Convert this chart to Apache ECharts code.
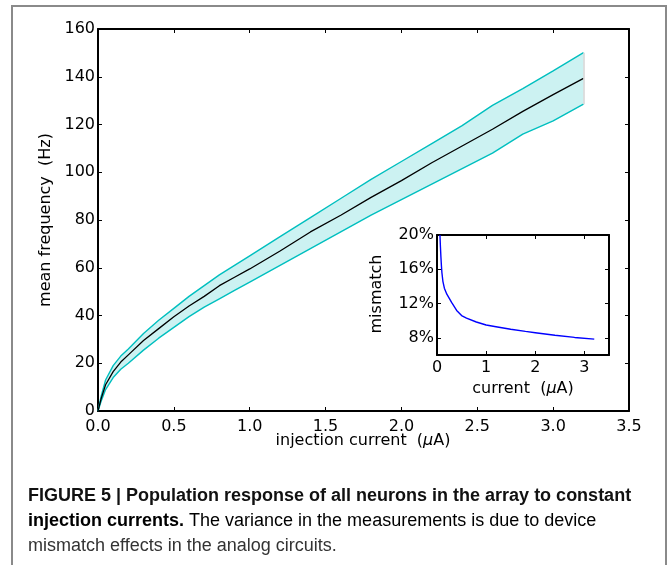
<!DOCTYPE html>
<html>
<head>
<meta charset="utf-8">
<script src="https://cdn.jsdelivr.net/npm/echarts@6/dist/echarts.min.js"></script>
<style>
html,body{margin:0;padding:0;background:#fff;}
#chart{width:669px;height:565px;}
</style>
</head>
<body>
<div id="chart"></div>
<script>
// ---- data ----
var current   = [0, 0.02, 0.05, 0.1, 0.15, 0.2, 0.3, 0.4, 0.5, 0.6, 0.7, 0.8, 0.9, 1.0, 1.2, 1.4, 1.6, 1.8, 2.0, 2.2, 2.4, 2.6, 2.8, 3.0, 3.2];
var meanFreq  = [0, 5, 11, 16.5, 20.5, 23.5, 29.5, 34.5, 39.5, 44, 48, 52.5, 56, 59.5, 67, 75, 82, 89.5, 96.5, 104, 111, 118, 125.5, 132.5, 139.3];
var upperFreq = [0, 6, 13, 19, 23, 26, 32.5, 38, 43, 48, 52.5, 57, 61, 65, 73, 81, 89, 97, 104.5, 112, 119.5, 128, 135, 142.5, 150.1];
var lowerFreq = [0, 4, 9, 14, 17.5, 20, 25.5, 30.5, 35, 39.5, 43.5, 47, 50.5, 54, 61, 68, 75, 82, 88.5, 95, 101.5, 108, 116, 121.5, 128.5];

var insetCurrent  = [0.06, 0.07, 0.08, 0.09, 0.1, 0.12, 0.15, 0.2, 0.25, 0.3, 0.4, 0.5, 0.6, 0.8, 1.0, 1.2, 1.5, 1.8, 2.0, 2.4, 2.8, 3.2];
var insetMismatch = [20, 18.6, 17.4, 16.4, 15.6, 14.6, 13.8, 13.1, 12.6, 12.1, 11.2, 10.6, 10.3, 9.85, 9.5, 9.3, 9.0, 8.75, 8.6, 8.3, 8.05, 7.85];

var mainXTicks = {min: 0, max: 3.5, step: 0.5};
var mainYTicks = {min: 0, max: 160, step: 20};
var insetXRange = [0, 3.5];
var insetXTickValues = [0, 1, 2, 3];
var insetYTickValues = [8, 12, 16, 20];
var insetYRange = [6, 20];

var captionLine1 = "FIGURE 5 | Population response of all neurons in the array to constant";
var captionLine2Bold = "injection currents.";
var captionLine2 = " The variance in the measurements is due to device";
var captionLine3 = "mismatch effects in the analog circuits.";

// ---- build ----
function pairs(xs, ys){ return xs.map(function(x,i){ return [x, ys[i]]; }); }
var lastIdx = current.length - 1;

var FONT = 'DejaVu Sans';
var CAPFONT = '"Liberation Sans Narrow", "Liberation Sans"';
var lineBlack = {color:'#000', width:2};
var tickIn = {show:true, inside:true, length:4, lineStyle:{color:'#000', width:1}};
var lbl = {color:'#000', fontFamily:FONT, fontSize:16};
function axLine(){ return {show:true, onZero:false, lineStyle:lineBlack}; }

var chart = echarts.init(document.getElementById('chart'), null, {renderer:'canvas'});
chart.setOption({
  animation:false,
  backgroundColor:'#fff',
  grid:[
    {left:98, top:29, width:531, height:382, show:false},
    {left:437, top:235, width:172, height:120, show:true, backgroundColor:'#fff', borderWidth:0, z:5}
  ],
  xAxis:[
    {gridIndex:0, type:'value', min:mainXTicks.min, max:mainXTicks.max, interval:mainXTicks.step, position:'bottom',
     axisLine:axLine(), axisTick:tickIn, splitLine:{show:false},
     axisLabel:Object.assign({margin:8, formatter:function(v){return v.toFixed(1);}}, lbl)},
    {gridIndex:0, type:'value', min:mainXTicks.min, max:mainXTicks.max, interval:mainXTicks.step, position:'top',
     axisLine:axLine(), axisTick:tickIn, splitLine:{show:false}, axisLabel:{show:false}},
    {gridIndex:1, type:'value', min:insetXRange[0], max:insetXRange[1], position:'bottom', z:6,
     axisLine:axLine(), axisTick:Object.assign({customValues:insetXTickValues}, tickIn), splitLine:{show:false},
     axisLabel:Object.assign({margin:5, customValues:insetXTickValues}, lbl)},
    {gridIndex:1, type:'value', min:insetXRange[0], max:insetXRange[1], position:'top', z:6,
     axisLine:axLine(), axisTick:Object.assign({customValues:insetXTickValues}, tickIn), splitLine:{show:false}, axisLabel:{show:false}}
  ],
  yAxis:[
    {gridIndex:0, type:'value', min:mainYTicks.min, max:mainYTicks.max, interval:mainYTicks.step, position:'left',
     axisLine:axLine(), axisTick:tickIn, splitLine:{show:false},
     axisLabel:Object.assign({margin:3}, lbl)},
    {gridIndex:0, type:'value', min:mainYTicks.min, max:mainYTicks.max, interval:mainYTicks.step, position:'right',
     axisLine:axLine(), axisTick:tickIn, splitLine:{show:false}, axisLabel:{show:false}},
    {gridIndex:1, type:'value', min:insetYRange[0], max:insetYRange[1], position:'left', z:6,
     axisLine:axLine(),
     axisTick:Object.assign({customValues:insetYTickValues}, tickIn), splitLine:{show:false},
     axisLabel:Object.assign({margin:3, customValues:insetYTickValues, formatter:function(v){return v+'%';}}, lbl)},
    {gridIndex:1, type:'value', min:insetYRange[0], max:insetYRange[1], position:'right', z:6,
     axisLine:axLine(),
     axisTick:Object.assign({customValues:insetYTickValues}, tickIn), splitLine:{show:false}, axisLabel:{show:false}}
  ],
  series:[
    {type:'custom', xAxisIndex:0, yAxisIndex:0, silent:true, z:1,
     data:[[current[0], lowerFreq[0], upperFreq[0]]],
     renderItem:function(params, api){
       var pts = [];
       for (var i=0;i<current.length;i++) pts.push(api.coord([current[i], upperFreq[i]]));
       for (var j=current.length-1;j>=0;j--) pts.push(api.coord([current[j], lowerFreq[j]]));
       return {type:'polygon', shape:{points:pts}, style:{fill:'rgba(0,191,191,0.2)', stroke:'none'}};
     }},
    {type:'line', xAxisIndex:0, yAxisIndex:0, data:pairs(current, upperFreq), symbol:'none', z:2,
     lineStyle:{color:'#00bfbf', width:1.4},
     markLine:{symbol:'none', silent:true, label:{show:false}, lineStyle:{color:'#d4d4d4', width:1.5, type:'solid'},
       data:[[{coord:[current[lastIdx], lowerFreq[lastIdx]]},{coord:[current[lastIdx], upperFreq[lastIdx]]}]]}},
    {type:'line', xAxisIndex:0, yAxisIndex:0, data:pairs(current, lowerFreq), symbol:'none', z:2,
     lineStyle:{color:'#00bfbf', width:1.4}},
    {type:'line', xAxisIndex:0, yAxisIndex:0, data:pairs(current, meanFreq), symbol:'none', z:3,
     lineStyle:{color:'#000', width:1.3}},
    {type:'line', xAxisIndex:2, yAxisIndex:2, data:pairs(insetCurrent, insetMismatch), symbol:'none', z:7,
     lineStyle:{color:'#0000ff', width:1.4}}
  ],
  graphic:[
    {type:'rect', shape:{x:12, y:6, width:654, height:600}, style:{fill:'none', stroke:'#8a8a8a', lineWidth:2}, silent:true},
    {type:'text', x:363, y:441, style:{text:'injection current  ({i|μ}A)', align:'center', verticalAlign:'middle',
      font:'16px "DejaVu Sans"', fill:'#000', rich:{i:{fontStyle:'italic', fontFamily:FONT, fontSize:16}}}},
    {type:'text', x:46, y:220, rotation:Math.PI/2, style:{text:'mean frequency  (Hz)', align:'center', verticalAlign:'middle',
      font:'16px "DejaVu Sans"', fill:'#000'}},
    {type:'text', x:523, y:389, z:10, style:{text:'current  ({i|μ}A)', align:'center', verticalAlign:'middle',
      font:'16px "DejaVu Sans"', fill:'#000', rich:{i:{fontStyle:'italic', fontFamily:FONT, fontSize:16}}}},
    {type:'text', x:377, y:294, z:10, rotation:Math.PI/2, style:{text:'mismatch', align:'center', verticalAlign:'middle',
      font:'16px "DejaVu Sans"', fill:'#000'}},
    {type:'text', x:28, y:496, style:{text:captionLine1, align:'left', verticalAlign:'middle',
      font:'bold 18px ' + CAPFONT, fill:'#111'}},
    {type:'text', x:28, y:521, style:{text:'{b|'+captionLine2Bold+'}{r|'+captionLine2+'}', align:'left', verticalAlign:'middle',
      rich:{b:{fontWeight:'bold', fontFamily:CAPFONT, fontSize:18, color:'#111'},
            r:{fontWeight:'normal', fontFamily:CAPFONT, fontSize:18, color:'#333'}}}},
    {type:'text', x:28, y:546, style:{text:captionLine3, align:'left', verticalAlign:'middle',
      font:'18px ' + CAPFONT, fill:'#333'}}
  ]
});
</script>
</body>
</html>
